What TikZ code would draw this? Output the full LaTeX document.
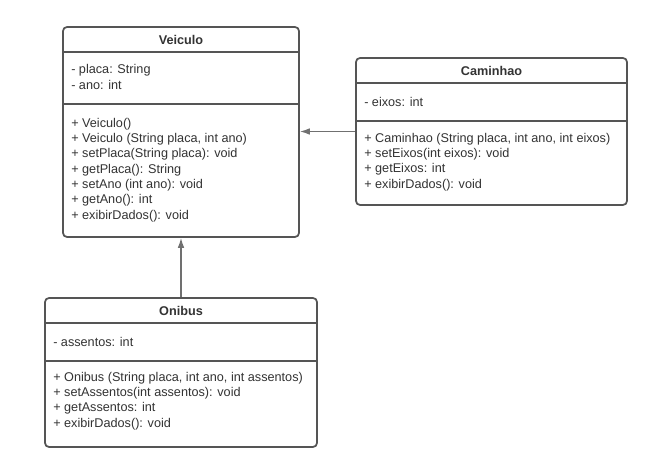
\documentclass[tikz,border=0pt]{standalone}
\usepackage{fontspec}
\setmainfont{Liberation Sans}
\usetikzlibrary{arrows.meta}
\definecolor{boxline}{RGB}{85,85,85}
\definecolor{arrowline}{RGB}{112,112,112}
\definecolor{umltext}{RGB}{51,51,51}
\tikzset{
  umlbox/.style={draw=boxline, line width=1.3pt, rounded corners=3pt, fill=white, inner sep=0pt},
  umlsep/.style={draw=boxline, line width=1.3pt},
  umltitle/.style={text=umltext, font=\fontsize{9.5}{11.5}\selectfont\bfseries, inner sep=0pt},
  umllines/.style={text=umltext, font=\fontsize{9.5}{11.5}\selectfont, align=left, anchor=west, inner sep=0pt},
  inherit/.style={draw=arrowline, line width=1pt, -{Latex[length=7.5pt,width=5pt]}}
}
\begin{document}
\begin{tikzpicture}[x=0.75pt,y=0.75pt,yscale=-1,xscale=1]
\useasboundingbox (0,0) rectangle (669,473);

%Shape: Rectangle [id:veiculo] 
\node[umlbox, minimum width=177pt, minimum height=157.5pt] (veiculo) at (181,132) {};
%Straight Lines [id:veiculosep1] 
\draw[umlsep] (63,52) -- (299,52) ;
%Straight Lines [id:veiculosep2] 
\draw[umlsep] (63,104) -- (299,104) ;

%Shape: Rectangle [id:caminhao] 
\node[umlbox, minimum width=203.25pt, minimum height=110.25pt] (caminhao) at (491.5,131.5) {};
%Straight Lines [id:caminhaosep1] 
\draw[umlsep] (356,83) -- (627,83) ;
%Straight Lines [id:caminhaosep2] 
\draw[umlsep] (356,121) -- (627,121) ;

%Shape: Rectangle [id:onibus] 
\node[umlbox, minimum width=204pt, minimum height=111.75pt] (onibus) at (181,372.5) {};
%Straight Lines [id:onibussep1] 
\draw[umlsep] (45,323) -- (317,323) ;
%Straight Lines [id:onibussep2] 
\draw[umlsep] (45,361) -- (317,361) ;

%Straight Lines [id:caminhaoarrow] 
\draw[inherit] (caminhao.west) -- (caminhao.west -| veiculo.east) ;
%Straight Lines [id:onibusarrow] 
\draw[inherit] (onibus.north) -- (veiculo.south) ;

% Text Node
\draw (181,39.5) node[umltitle] (veiculotitle) {Veiculo};
% Text Node
\draw (71,77) node[umllines] (veiculoattr) {- placa: String\\- ano: int};
% Text Node
\draw (71,170) node[umllines] (veiculometh) {+ Veiculo()\\+ Veiculo (String placa, int ano)\\+ setPlaca(String placa): void\\+ getPlaca(): String\\+ setAno (int ano): void\\+ getAno(): int\\+ exibirDados(): void};

% Text Node
\draw (491.5,70.5) node[umltitle] (caminhaotitle) {Caminhao};
% Text Node
\draw (364,102) node[umllines] (caminhaoattr) {- eixos: int};
% Text Node
\draw (364,162) node[umllines] (caminhaometh) {+ Caminhao (String placa, int ano, int eixos)\\+ setEixos(int eixos): void\\+ getEixos: int\\+ exibirDados(): void};

% Text Node
\draw (181,310.5) node[umltitle] (onibustitle) {Onibus};
% Text Node
\draw (53,342) node[umllines] (onibusattr) {- assentos: int};
% Text Node
\draw (53,401) node[umllines] (onibusmeth) {+ Onibus (String placa, int ano, int assentos)\\+ setAssentos(int assentos): void\\+ getAssentos: int\\+ exibirDados(): void};

\end{tikzpicture}
\end{document}
